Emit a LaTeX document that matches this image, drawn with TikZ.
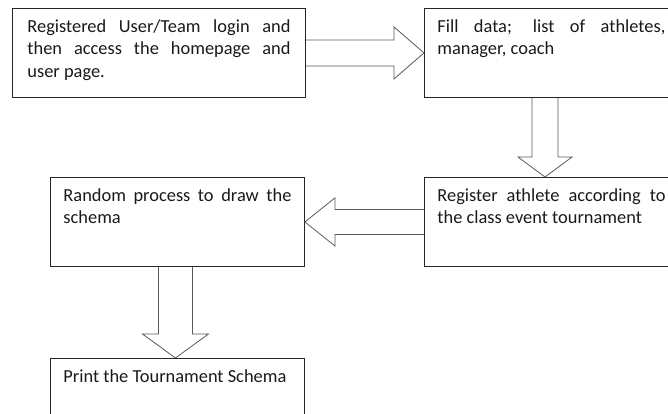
\documentclass[tikz,border=0pt]{standalone}
\usepackage{fontspec}
\setmainfont{Carlito}
\usetikzlibrary{calc}
\newcommand{\boxtext}[2]{\parbox[t][73pt][t]{#1}{\hyphenpenalty=10000\strut #2}}

\begin{document}
\begin{tikzpicture}[x=1pt,y=1pt,
    stepbox/.style={shape=rectangle,draw=black!85,line width=0.9pt,anchor=north west,inner xsep=#1,inner ysep=8pt,font=\fontsize{18.4}{22.6}\selectfont,text=black!90},
    stepbox/.default=13pt,
    blockarrow/.style={draw=black!65,line width=0.8pt}]
    \useasboundingbox (0,0) rectangle (668,-414);
    \clip (0,0) rectangle (668,-414);

    \node[stepbox=15pt] (Login) at (12,-8) {\boxtext{263pt}{Registered User/Team login and\linebreak then access the homepage and\linebreak user page.}};
    \node[stepbox] (Data) at (424,-8) {\boxtext{228pt}{Fill data; list of athletes,\linebreak manager, coach}};
    \node[stepbox] (Register) at (424,-177) {\boxtext{228pt}{Register athlete according to\linebreak the class event tournament}};
    \node[stepbox] (Random) at (50,-177) {\boxtext{228pt}{Random process to draw the\linebreak schema}};
    \node[stepbox] (Print) at (50,-358) {\boxtext{228pt}{Print the Tournament Schema}};

    % block arrows between the steps
    \draw[blockarrow] ($(Login.east)+(0,13)$) -- ($(Data.west)+(-30,13)$) -- ($(Data.west)+(-30,26)$) -- (Data.west) -- ($(Data.west)+(-30,-26)$) -- ($(Data.west)+(-30,-13)$) -- ($(Login.east)+(0,-13)$);
    \draw[blockarrow] ($(Data.south west)+(108,0)$) -- ($(Register.north west)+(108,20)$) -- ($(Register.north west)+(94,20)$) -- ($(Register.north west)+(121,0)$) -- ($(Register.north west)+(148,20)$) -- ($(Register.north west)+(134,20)$) -- ($(Data.south west)+(134,0)$);
    \draw[blockarrow] ($(Register.west)+(0,12.5)$) -- ($(Random.east)+(30,12.5)$) -- ($(Random.east)+(30,24)$) -- (Random.east) -- ($(Random.east)+(30,-24)$) -- ($(Random.east)+(30,-12.5)$) -- ($(Register.west)+(0,-12.5)$);
    \draw[blockarrow] ($(Random.south)+(-19,0)$) -- ($(Print.north)+(-19,24)$) -- ($(Print.north)+(-35,24)$) -- ($(Print.north)+(-2,0)$) -- ($(Print.north)+(31,24)$) -- ($(Print.north)+(15,24)$) -- ($(Random.south)+(15,0)$);
\end{tikzpicture}
\end{document}
